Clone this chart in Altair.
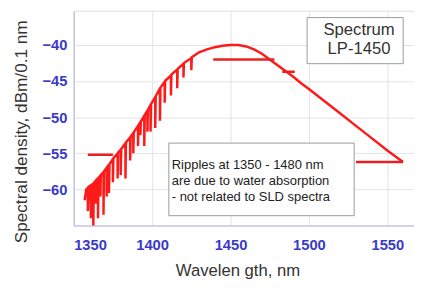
import altair as alt
import pandas as pd

# main spectrum trace (wavelength nm, dBm/0.1nm), spikes are water absorption dips
wl = [1357, 1358, 1359, 1359, 1359.3, 1360.5, 1361, 1361.3, 1362.5, 1362.5, 1362.8,
      1364, 1364, 1364.3, 1365.5, 1365.5, 1365.8, 1367, 1367, 1367.3, 1369, 1369, 1369.3,
      1371, 1371, 1371.3, 1372.5, 1372.5, 1372.8, 1375, 1375, 1375.3, 1378, 1378, 1378.3,
      1380, 1380, 1380.3, 1383, 1383, 1383.3, 1386, 1386, 1386.3, 1388, 1388, 1388.3,
      1391, 1391, 1391.3, 1392.5, 1392.5, 1392.8, 1395, 1395, 1395.3, 1397, 1397, 1397.3,
      1399, 1399, 1399.3, 1402, 1402, 1402.3, 1405, 1405, 1405.3, 1408, 1408, 1408.3,
      1412, 1412, 1412.3, 1416, 1416, 1416.3, 1420, 1420, 1420.3, 1425, 1425, 1425.3,
      1430, 1435, 1440, 1445, 1450, 1455, 1460, 1465, 1470, 1475, 1480, 1485, 1490,
      1495, 1500, 1510, 1520, 1530, 1540, 1550, 1560]
dbm = [-61.5, -60.0, -59.8, -63.0, -59.7, -59.5, -64.0, -59.4, -59.2, -65.5, -59.1,
       -58.8, -62.0, -58.7, -58.5, -64.0, -58.4, -58.1, -61.0, -58.0, -57.6, -63.5, -57.5,
       -57.0, -61.0, -56.9, -56.6, -60.5, -56.5, -55.8, -59.0, -55.7, -55.0, -58.5, -54.9,
       -54.5, -58.0, -54.4, -53.6, -58.5, -53.5, -52.8, -56.0, -52.7, -52.2, -55.0, -52.1,
       -51.2, -54.0, -51.1, -50.7, -52.5, -50.6, -49.8, -54.0, -49.7, -49.1, -52.0, -49.0,
       -48.3, -52.0, -48.2, -47.2, -51.5, -47.1, -46.0, -50.5, -45.9, -45.1, -48.0, -45.0,
       -44.2, -47.0, -44.1, -43.4, -46.0, -43.3, -42.6, -44.5, -42.5, -41.8, -43.5, -41.7,
       -41.0, -40.6, -40.3, -40.1, -40.0, -40.0, -40.2, -40.6, -41.2, -42.0, -42.8, -43.6, -44.4,
       -45.3, -46.1, -47.8, -49.5, -51.2, -52.9, -54.6, -56.2]

# horizontal trace segments
seg_x1 = [1359, 1439, 1483, 1530]
seg_x2 = [1375, 1478, 1491, 1560]
seg_y = [-55.2, -42.0, -43.7, -56.2]

x_ticks = [1350, 1400, 1450, 1500, 1550]
y_ticks = [-60, -55, -50, -45, -40]

note_lines = ["Ripples at 1350  - 1480  nm", "are  due  to water  absorption", "- not  related to  SLD  spectra"]
label_lines = ["Spectrum", "LP-1450"]

df = pd.DataFrame({"wl": wl, "dbm": dbm, "i": list(range(len(wl)))})
segs = pd.DataFrame({"x1": seg_x1, "x2": seg_x2, "y": seg_y})

W, H = 347, 219
LABEL = "#3a3ac8"
xs = alt.Scale(domain=[1350, 1567], nice=False)
ys = alt.Scale(domain=[-65, -35.25], nice=False)

xaxis = alt.Axis(values=x_ticks, title="Wavelen gth, nm", format="d", labelFont="Liberation Sans",
                 labelFontSize=15, labelFontWeight="bold", labelColor=LABEL, labelPadding=13,
                 tickSize=0, grid=True, gridColor="#e2e2ea", domainColor="#b8b8e0",
                 titleFont="Liberation Sans", titleFontSize=17, titleFontWeight="normal",
                 titleColor="#333333", titleX=167, titleY=46, titleBaseline="middle")
yaxis = alt.Axis(values=y_ticks, title="Spectral density, dBm/0.1 nm", format="d",
                 labelFont="Liberation Sans", labelFontSize=15, labelFontWeight="bold",
                 labelColor=LABEL, labelPadding=7, tickSize=0, grid=True, gridColor="#e2e2ea",
                 domainColor="#b8b8e0", titleFont="Liberation Sans", titleFontSize=17.5,
                 titleFontWeight="normal", titleColor="#333333", titleX=-53, titleY=123,
                 titleBaseline="middle", titleAngle=-90)

line = alt.Chart(df).mark_line(color="#ff1a1a", strokeWidth=2.5, clip=True).encode(
    x=alt.X("wl:Q", scale=xs, axis=xaxis),
    y=alt.Y("dbm:Q", scale=ys, axis=yaxis),
    order="i:Q",
)

rules = alt.Chart(segs).mark_rule(color="#e82020", strokeWidth=2.5, clip=True).encode(
    x=alt.X("x1:Q", scale=xs), x2="x2:Q", y=alt.Y("y:Q", scale=ys)
)

box_df = pd.DataFrame({"k": [0]})
spec_box = alt.Chart(box_df).mark_rect(fill="white", stroke="#9a9a9a", strokeWidth=1).encode(
    x=alt.value(238), x2=alt.value(336), y=alt.value(7), y2=alt.value(54))
note_box = alt.Chart(box_df).mark_rect(fill="white", stroke="#9a9a9a", strokeWidth=1).encode(
    x=alt.value(97), x2=alt.value(286), y=alt.value(135), y2=alt.value(209))

spec_df = pd.DataFrame({"t": label_lines, "yy": [20, 39]})
spec_text = alt.Chart(spec_df).mark_text(font="Liberation Sans", fontSize=17, color="#333333",
                                         align="center", baseline="middle").encode(
    x=alt.value(291), y=alt.Y("yy:Q", scale=None), text="t:N")

note_df = pd.DataFrame({"t": note_lines, "yy": [157, 174, 190]})
note_text = alt.Chart(note_df).mark_text(font="Liberation Sans", fontSize=13.2, color="#222222",
                                         align="left", baseline="middle").encode(
    x=alt.value(100), y=alt.Y("yy:Q", scale=None), text="t:N")

chart = alt.layer(line, rules, spec_box, spec_text, note_box, note_text).properties(
    width=W, height=H,
    autosize=alt.AutoSizeParams(type="none"),
    padding={"left": 67, "top": 0, "right": 0, "bottom": 62},
).configure_view(stroke="#b8b8e0").configure(background="white")

chart.save("out.html", embed_options={"renderer": "svg", "actions": False})
